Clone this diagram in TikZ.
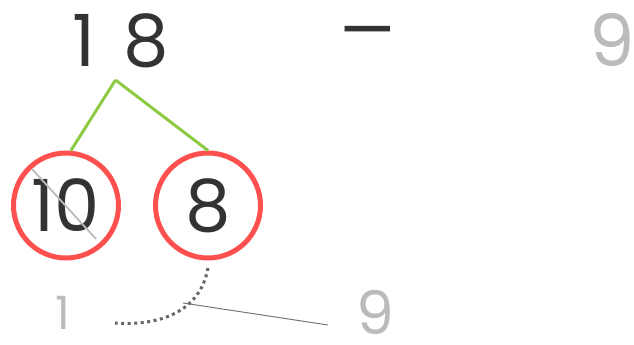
\documentclass[tikz,border=0pt]{standalone}
\usepackage{fontspec}
\setmainfont{Poppins}
\definecolor{ink}{HTML}{333333}
\definecolor{pale}{HTML}{BBBBBB}
\definecolor{ringred}{HTML}{FF5050}
\definecolor{leafgreen}{HTML}{8DCB44}
\definecolor{dotgray}{HTML}{666666}
\definecolor{thingray}{HTML}{777777}
\begin{document}
\begin{tikzpicture}[x=1pt,y=-1pt,
  digit/.style={inner sep=0pt,text=ink,font=\fontsize{72}{72}\selectfont},
  faint/.style={inner sep=0pt,text=pale,font=\fontsize{72}{72}\selectfont},
  ring/.style={circle,draw=ringred,line width=5pt,minimum size=105pt,inner sep=0pt,text=ink,font=\fontsize{72}{72}\selectfont},
  branch/.style={draw=leafgreen,line width=3pt},
]
\useasboundingbox (0,0) rectangle (634,345);
\node[digit] (t1) at (84,40.5) {1};
\node[digit] (t8) at (146,40.5) {8};
\node[digit,xscale=1.2] (minus) at (368,41) {–};
\node[faint] (t9) at (612,40.5) {9};
\coordinate (apex) at (115.5,80);
\node[ring] (c10) at (66,205.5) {10};
\node[ring] (c8) at (208,205.5) {8};
\draw[branch] (apex) -- (c10.85);
\draw[branch] (apex) -- (c8.north);
\coordinate (s1) at (32,169);
\coordinate (s2) at (96,239);
\draw[pale,line width=1.8pt] (s1) -- (s2);
\node[faint,font=\fontsize{46}{46}\selectfont] (b1) at (63,313) {1};
\node[faint,font=\fontsize{60}{60}\selectfont] (b9) at (375,312) {9};
\coordinate (d1) at (208,268);
\coordinate (d2) at (115,323);
\draw[dotgray,line width=3pt,dash pattern=on 3pt off 3.5pt] (d1) .. controls (200,312) and (160,326) .. (d2);
\coordinate (l1) at (183,303);
\coordinate (l2) at (328,325);
\draw[thingray,line width=1pt] (l1) -- (l2);
\end{tikzpicture}
\end{document}
